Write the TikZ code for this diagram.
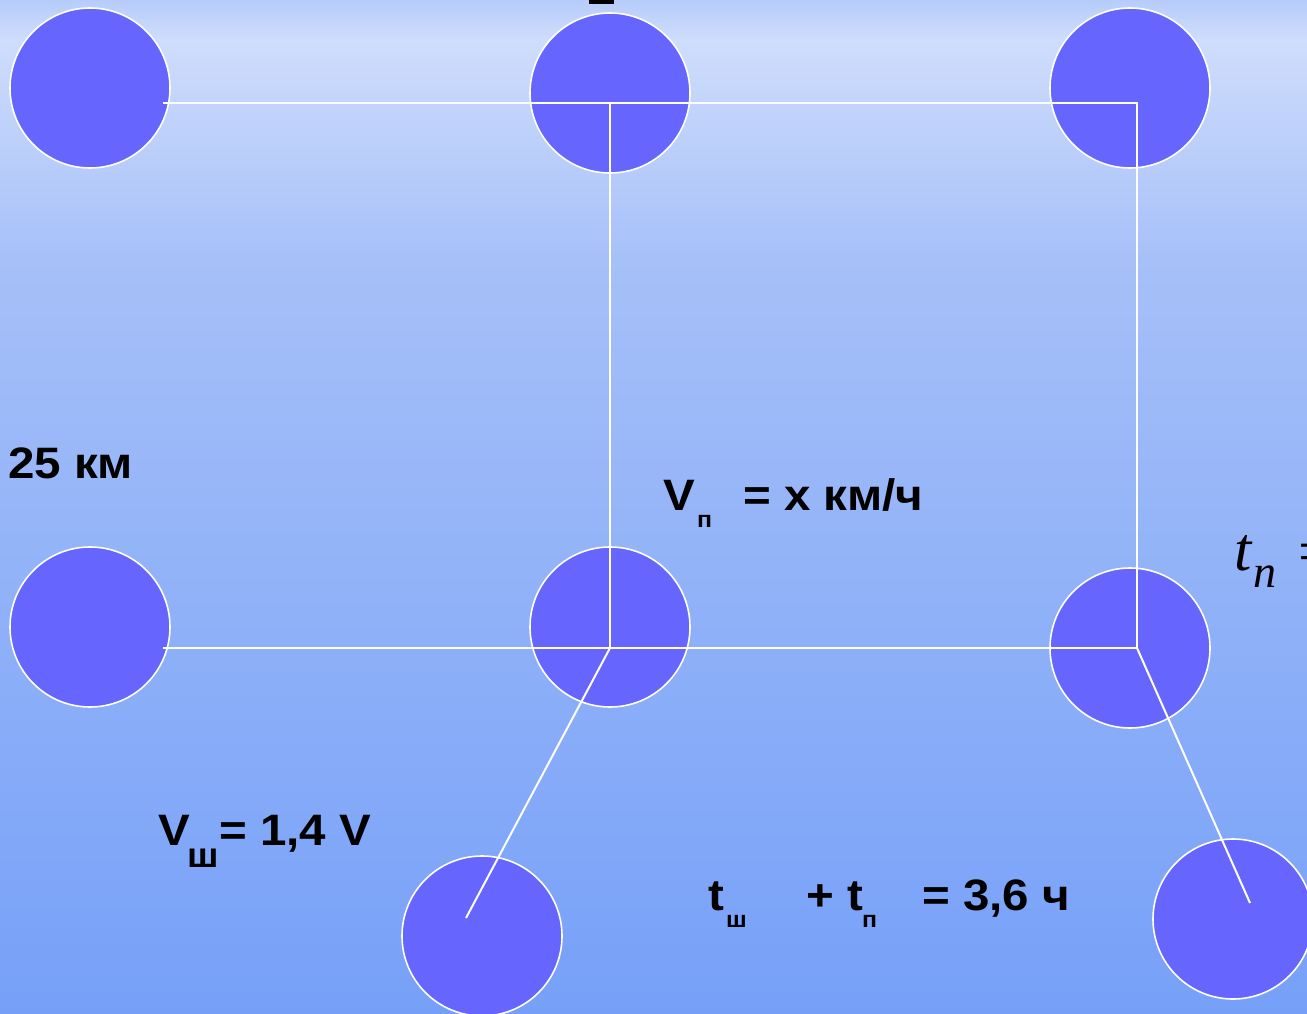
\documentclass[tikz,border=0pt]{standalone}
\usepackage{fontspec}
\setmainfont{Liberation Sans}[FakeStretch=1.08]
\newfontfamily\seriffam{Liberation Serif}
\usetikzlibrary{positioning}
\definecolor{discblue}{HTML}{6666FF}
\definecolor{seaA}{HTML}{B6CCFA}
\definecolor{seaB}{HTML}{CFDDFC}
\definecolor{seaC}{HTML}{A6C0F8}
\definecolor{seaD}{HTML}{76A0F8}
\newcommand{\fsz}[1]{\fontsize{#1}{#1}\selectfont}

\begin{document}
\begin{tikzpicture}[x=1pt, y=-1pt,
    disc/.style={circle, draw=white, line width=1.6pt, fill=discblue,
                 minimum size=160pt, inner sep=0pt},
    wire/.style={draw=white, line width=2pt},
    lbl/.style={anchor=base west, inner sep=0pt, font=\fsz{44}\bfseries},
    sublbl/.style={anchor=base west, inner sep=0pt, font=\fsz{23}\bfseries}]
  \useasboundingbox (0,0) rectangle (1307,1014);
  % sea background
  \shade[top color=seaA, bottom color=seaB] (0,0) rectangle (1307,40);
  \shade[top color=seaB, bottom color=seaC] (0,40) rectangle (1307,260);
  \shade[top color=seaC, bottom color=seaD] (0,260) rectangle (1307,1014);
  \fill[black] (589,0) rectangle (614,4);

  % discs
  \node[disc] (a) at (90,88)   {};
  \node[disc] (b) at (610,93)  {};
  \node[disc] (c) at (1130,88) {};
  \node[disc] (d) at (90,627)  {};
  \node[disc] (e) at (610,627) {};
  \node[disc] (f) at (1130,648) {};
  \node[disc] (g) at (482,936) {};
  \node[disc] (h) at (1233,919) {};

  % frame corners
  \coordinate (tl) at (163,103);
  \coordinate (tm) at (610,103);
  \coordinate (tr) at (1137,103);
  \coordinate (bl) at (163,648);
  \coordinate (bm) at (610,648);
  \coordinate (br) at (1137,648);
  \coordinate (gEnd) at (466,918);
  \coordinate (hEnd) at (1250,903);
  \draw[wire] (tl) -- (tm) -- (tr) -- (br);
  \draw[wire] (tm) -- (bm);
  \draw[wire] (bl) -- (bm) -- (br);
  \draw[wire] (bm) -- (gEnd);
  \draw[wire] (br) -- (hEnd);

  % labels
  \node[lbl] (dist) at (8,478) {25 км};
  \node[lbl] (vp) at (663,510) {V};
  \node[sublbl] (vpSub) at (697,527) {п};
  \node[lbl] (vpRest) at (743,510) {= x км/ч};
  \node[lbl] (vs) at (158,845) {V};
  \node[sublbl, font=\fsz{35}\bfseries] (vsSub) at (187,867) {ш};
  \node[lbl] (vsRest) at (219,845) {= 1,4 V};
  \node[lbl] (ts) at (708,910) {t};
  \node[sublbl] (tsSub) at (726,927) {ш};
  \node[lbl] (tp) at (806,910) {+ t};
  \node[sublbl] (tpSub) at (862,927) {п};
  \node[lbl] (sum) at (922,910) {= 3,6 ч};
  \node[anchor=base west, inner sep=0pt, font=\seriffam\itshape\fsz{62}] (tn) at (1234,570) {t};
  \node[anchor=base west, inner sep=0pt, font=\seriffam\itshape\fsz{46}] (tnSub) at (1253,587) {n};
  \node[anchor=base west, inner sep=0pt, font=\seriffam\fsz{62}] (tnEq) at (1298,572) {=};
\end{tikzpicture}
\end{document}
